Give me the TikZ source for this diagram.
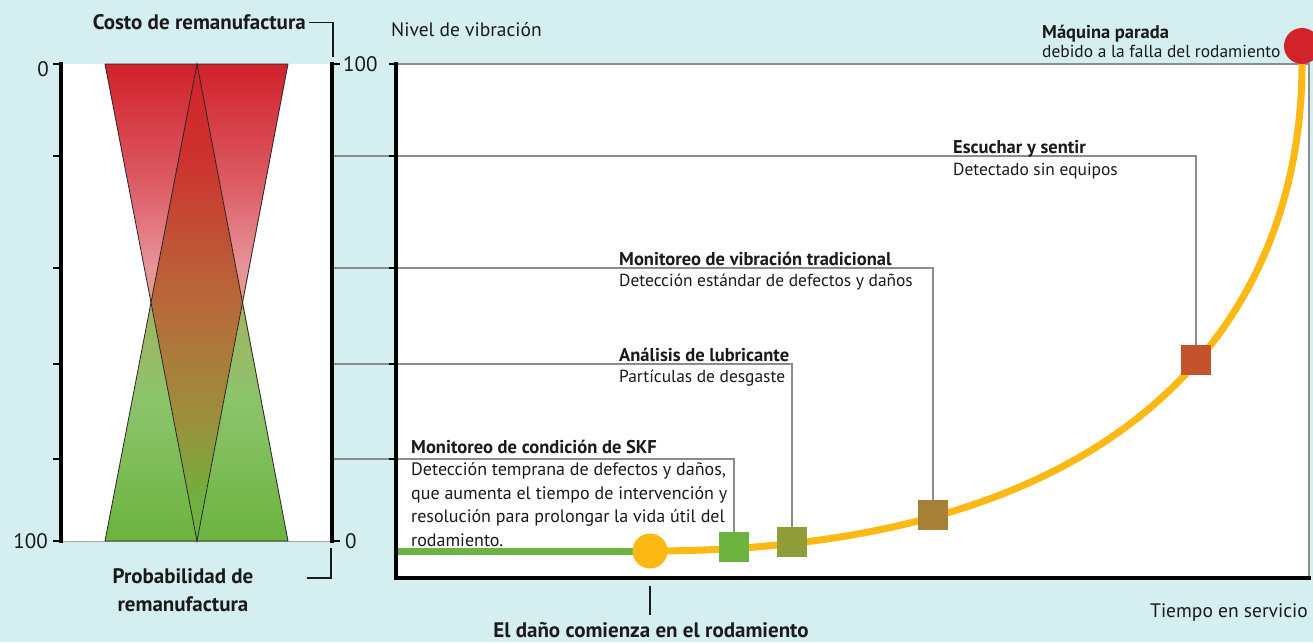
\documentclass[tikz,border=0pt]{standalone}
\usepackage{fontspec}
\setmainfont{PT Sans}
\definecolor{bg}{HTML}{D5EEF0}
\definecolor{txt}{HTML}{1A1A1A}
\definecolor{cgreen}{HTML}{6DB33F}
\definecolor{cyellow}{HTML}{FDB913}
\definecolor{cred}{HTML}{D2232A}
\definecolor{colive}{HTML}{8F9C3A}
\definecolor{cbrown}{HTML}{A68034}
\definecolor{crust}{HTML}{C4532D}
\definecolor{cgray}{HTML}{8C8C8C}
\newcommand{\fbody}{\fontsize{17.4}{23.4}\selectfont}
\newcommand{\fhead}{\fontsize{18.5}{23.4}\selectfont\bfseries}
\newcommand{\fskf}{\fontsize{18}{23.4}\selectfont}
\newcommand{\fax}{\fontsize{19.5}{24}\selectfont}
\newcommand{\fbig}{\fontsize{21}{28}\selectfont\bfseries}
\newcommand{\fnum}{\fontsize{21}{24}\selectfont}
\begin{document}
\begin{tikzpicture}[x=1pt,y=-1pt,
  lbl/.style={inner sep=0pt, text=txt, font=\fbody},
  hd/.style={inner sep=0pt, text=txt, font=\fhead},
  big/.style={inner sep=0pt, text=txt, font=\fbig},
  num/.style={inner sep=0pt, text=txt, font=\fnum},
  axlbl/.style={inner sep=0pt, text=txt, font=\fax},
  axisline/.style={line width=4pt, black},
  tickline/.style={line width=2pt, black},
  conn/.style={line width=1.2pt, cgray},
  sq/.style={rectangle, minimum size=30pt, inner sep=0pt},
  dot/.style={circle, inner sep=0pt},
  tri/.style={line width=0.8pt, black!85}
]
\fill[bg] (0,0) rectangle (1313,642);
\useasboundingbox (0,0) rectangle (1313,642);

% panels
\fill[white] (61,64) rectangle (332,541);
\fill[white] (396,64) rectangle (1309,578);
\draw[line width=1.5pt, cgray] (396,64) -- (1309,64) -- (1309,578);
\draw[line width=1pt, black!35] (61,541) -- (332,541);

% triangles
\begin{scope}
\clip (105,64) -- (197,64) -- (151,302.5) -- cycle (197,64) -- (288,64) -- (243,302.5) -- cycle;
\shade[top color={rgb,255:red,208;green,33;blue,43}, bottom color={rgb,255:red,220;green,90;blue,98}] (90,63) rectangle (300,180.5);
\shade[top color={rgb,255:red,220;green,90;blue,98}, bottom color={rgb,255:red,232;green,146;blue,154}] (90,180) rectangle (300,265.5);
\shade[top color={rgb,255:red,232;green,146;blue,154}, bottom color={rgb,255:red,221;green,162;blue,132}] (90,265) rectangle (300,304);
\end{scope}
\begin{scope}
\clip (197,64) -- (243,302.5) -- (197,541) -- (151,302.5) -- cycle;
\shade[top color={rgb,255:red,208;green,36;blue,43}, bottom color={rgb,255:red,206;green,48;blue,46}] (140,63) rectangle (250,150.5);
\shade[top color={rgb,255:red,206;green,48;blue,46}, bottom color={rgb,255:red,184;green,105;blue,58}] (140,150) rectangle (250,302.5);
\shade[top color={rgb,255:red,184;green,105;blue,58}, bottom color={rgb,255:red,156;green,144;blue,60}] (140,302) rectangle (250,420.5);
\shade[top color={rgb,255:red,156;green,144;blue,60}, bottom color={rgb,255:red,110;green,177;blue,63}] (140,420) rectangle (250,500.5);
\shade[top color={rgb,255:red,110;green,177;blue,63}, bottom color={rgb,255:red,109;green,179;blue,63}] (140,500) rectangle (250,542);
\end{scope}
\begin{scope}
\clip (151,302.5) -- (105,541) -- (197,541) -- cycle (243,302.5) -- (197,541) -- (288,541) -- cycle;
\shade[top color={rgb,255:red,163;green,178;blue,98}, bottom color={rgb,255:red,140;green,196;blue,108}] (90,301) rectangle (300,400.5);
\shade[top color={rgb,255:red,140;green,196;blue,108}, bottom color={rgb,255:red,108;green,179;blue,62}] (90,400) rectangle (300,542);
\end{scope}
\draw[tri, line join=miter] (105,64) -- (288,64) -- (197,541) -- cycle;
\draw[tri, line join=miter] (105,541) -- (288,541) -- (197,64) -- cycle;

% connector start points on the left panel axis
\coordinate (c1) at (334,459);
\coordinate (c2) at (334,364);
\coordinate (c3) at (334,268);
\coordinate (c4) at (334,156);

% markers (placed first for naming)
\node[sq] (sq1) at (734,547) {};
\node[sq] (sq2) at (792,542) {};
\node[sq] (sq3) at (933,515) {};
\node[sq] (sq4) at (1196,360) {};
\node[dot, minimum size=35pt] (start) at (650,551) {};
\node[dot, minimum size=36pt] (stop) at (1302,46) {};

\draw[conn] (c1) -| (sq1.north);
\draw[conn] (c2) -| (sq2.north);
\draw[conn] (c3) -| (sq3.north);
\draw[conn] (c4) -| (sq4.north);

% curve and line
\coordinate (g0) at (396,551);
\draw[line width=7pt, cgreen] (g0) -- (start.center);
\draw[line width=7pt, cyellow] (start.center) .. controls (1150,551) and (1302,300) .. (1302,64) -- (stop.center);

% markers on top
\fill[cgreen] (sq1.south west) rectangle (sq1.north east);
\fill[colive] (sq2.south west) rectangle (sq2.north east);
\fill[cbrown] (sq3.south west) rectangle (sq3.north east);
\fill[crust] (sq4.south west) rectangle (sq4.north east);
\fill[cyellow] (start.center) circle[radius=17.5pt];
\fill[cred] (stop.center) circle[radius=18pt];

% axes
\draw[axisline] (61,62) -- (61,543);
\foreach \y in {64,156,268,364,459,541} \draw[tickline] (53,\y) -- (61,\y);
\draw[axisline] (332,62) -- (332,543);
\foreach \y in {64,541} \draw[tickline] (332,\y) -- (340,\y);
\draw[axisline, line join=miter] (396,62) -- (396,578) -- (1311,578);
\foreach \y in {64,156,268,364,459} \draw[tickline] (389,\y) -- (396,\y);

% numbers
\node[num, anchor=east] (n0l) at (49,69) {0};
\node[num, anchor=east] (n100l) at (48,541) {100};
\node[num, anchor=west] (n100r) at (343,64.5) {100};
\node[num, anchor=west] (n0r) at (345,541) {0};

% titles
\node[big, anchor=base east] (cost) at (306,30) {Costo de remanufactura};
\coordinate (costend) at (333,57);
\draw[line width=1.2pt, txt] (cost.east) ++(3,0) -| (costend);
\node[big, anchor=base, align=center] (prob) at (183,611) {Probabilidad de\\remanufactura};
\coordinate (pb1) at (307,578);
\coordinate (pb2) at (331,548);
\draw[line width=1.2pt, txt] (pb1) -| (pb2);
\node[axlbl, anchor=base west] (yax) at (391,37) {Nivel de vibración};
\node[axlbl, anchor=base east] (xax) at (1308,617) {Tiempo en servicio};
\node[big, anchor=base] (dmg) at (651,637) {El daño comienza en el rodamiento};
\coordinate (dmgtop) at (650,586);
\coordinate (dmgbot) at (650,615);
\draw[line width=1.2pt, txt] (dmgtop) -- (dmgbot);

% labels
\node[hd, anchor=base west] (h0) at (1042,38) {Máquina parada};
\node[lbl, anchor=base west] (d0) at (1042,57) {debido a la falla del rodamiento};
\node[hd, anchor=base west] (h4) at (953,153) {Escuchar y sentir};
\node[lbl, anchor=base west] (d4) at (953,175) {Detectado sin equipos};
\node[hd, anchor=base west] (h3) at (619,265) {Monitoreo de vibración tradicional};
\node[lbl, anchor=base west] (d3) at (619,286) {Detección estándar de defectos y daños};
\node[hd, anchor=base west] (h2) at (619,361) {Análisis de lubricante};
\node[lbl, anchor=base west] (d2) at (619,382) {Partículas de desgaste};
\node[hd, anchor=base west] (h1) at (411,453) {Monitoreo de condición de SKF};
\node[lbl, font=\fskf, anchor=base west, align=left] (d1) at (411,546) {Detección temprana de defectos y daños,\\que aumenta el tiempo de intervención y\\resolución para prolongar la vida útil del\\rodamiento.};
\end{tikzpicture}
\end{document}
